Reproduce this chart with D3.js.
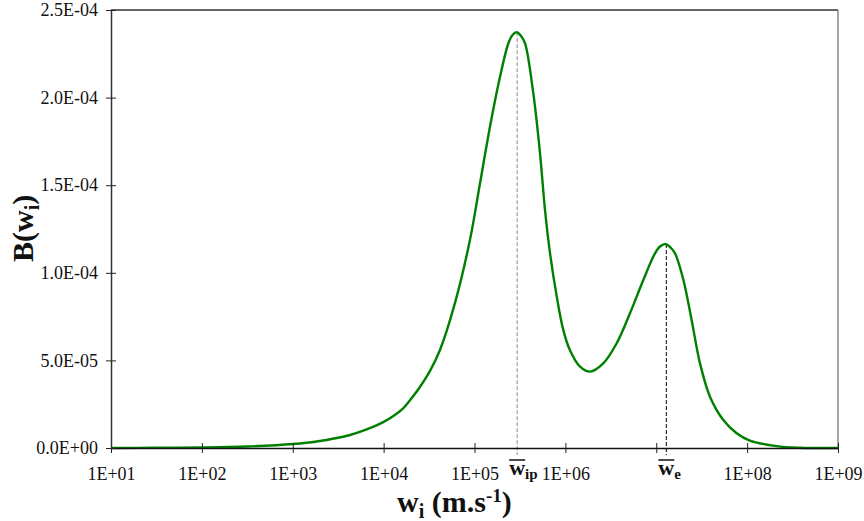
<!DOCTYPE html>
<html>
<head>
<meta charset="utf-8">
<script src="https://cdn.jsdelivr.net/npm/d3@7"></script>
<style>
  body { margin: 0; background: #fff; }
  svg { display: block; font-family: "Liberation Serif", "Times New Roman", serif; }
</style>
</head>
<body>
<svg id="chart" width="864" height="521"></svg>
<script>
// ---- data ----
const wValues = [1.0e1, 3.16e1, 1.0e2, 3.16e2, 1.01e3, 1.83e3, 4.27e3, 6.50e3, 9.91e3, 1.28e4, 1.65e4, 2.04e4, 2.51e4,
  3.24e4, 4.17e4, 6.10e4, 8.91e4, 1.15e5, 1.48e5, 1.91e5, 2.36e5, 2.62e5, 2.91e5, 3.25e5, 3.60e5,
  4.44e5, 5.26e5, 5.97e5, 6.78e5, 8.04e5, 9.48e5, 1.12e6, 1.45e6, 1.87e6, 2.61e6, 3.67e6,
  5.14e6, 7.21e6, 9.68e6, 1.10e7, 1.28e7, 1.45e7, 1.61e7, 1.99e7, 2.45e7, 3.03e7, 3.90e7,
  5.47e7, 7.67e7, 1.07e8, 2.11e8, 3.82e8, 1.0e9];
const bValues = [0, 1.1e-7, 2.9e-7, 8.6e-7, 2.28e-6, 3.7e-6, 7.4e-6, 1.06e-5, 1.48e-5, 1.83e-5, 2.28e-5, 2.85e-5, 3.48e-5,
  4.40e-5, 5.59e-5, 8.28e-5, 1.187e-4, 1.511e-4, 1.834e-4, 2.119e-4, 2.310e-4, 2.357e-4, 2.373e-4, 2.352e-4, 2.310e-4,
  2.024e-4, 1.682e-4, 1.358e-4, 1.111e-4, 8.64e-5, 6.74e-5, 5.59e-5, 4.64e-5, 4.36e-5, 4.83e-5, 5.98e-5,
  7.69e-5, 9.59e-5, 1.111e-4, 1.150e-4, 1.164e-4, 1.142e-4, 1.111e-4, 9.59e-5, 7.31e-5, 4.83e-5, 2.93e-5,
  1.60e-5, 8.4e-6, 4.2e-6, 1.1e-6, 1.7e-7, 0];

const xTickValues = [1e1, 1e2, 1e3, 1e4, 1e5, 1e6, 1e7, 1e8, 1e9];
const xTickLabels = ["1E+01", "1E+02", "1E+03", "1E+04", "1E+05", "1E+06", "", "1E+08", "1E+09"];
const yTickValues = [0, 5e-5, 1e-4, 1.5e-4, 2e-4, 2.5e-4];
const yTickLabels = ["0.0E+00", "5.0E-05", "1.0E-04", "1.5E-04", "2.0E-04", "2.5E-04"];

const markerW = [2.95e5, 1.29e7];
const markerB = [2.373e-4, 1.164e-4];
const markerSub = ["ip", "e"];
const markerColor = ["#888", "#000"];

// ---- layout ----
const L = 111, R = 838, T = 10, B = 448;
const svg = d3.select("#chart");
const x = d3.scaleLog().domain([1e1, 1e9]).range([L, R]);
const y = d3.scaleLinear().domain([0, 2.5e-4]).range([B, T]);

// frame (top and right)
svg.append("line").attr("x1", L).attr("x2", R).attr("y1", T).attr("y2", T)
  .attr("stroke", "#333").attr("stroke-width", 1.3);
svg.append("line").attr("x1", R).attr("x2", R).attr("y1", T).attr("y2", B)
  .attr("stroke", "#777").attr("stroke-width", 1.3);

// marker dashed lines
markerW.forEach((w, i) => {
  svg.append("line")
    .attr("x1", x(w)).attr("x2", x(w))
    .attr("y1", y(markerB[i])).attr("y2", B + 7)
    .attr("stroke", markerColor[i]).attr("stroke-width", 1)
    .attr("stroke-dasharray", "4,2");
});

// curve
const line = d3.line()
  .x((d, i) => x(wValues[i]))
  .y(d => y(d))
  .curve(d3.curveCatmullRom.alpha(0.5));
svg.append("path").datum(bValues)
  .attr("d", line)
  .attr("fill", "none")
  .attr("stroke", "#008000")
  .attr("stroke-width", 2.4);

// axes
const xAxis = d3.axisBottom(x).tickValues(xTickValues)
  .tickFormat((d, i) => xTickLabels[i]).tickSizeInner(5).tickSizeOuter(0).tickPadding(14);
const gx = svg.append("g").attr("transform", `translate(0,${B})`).call(xAxis);
gx.select(".domain").attr("stroke", "#111").attr("stroke-width", 1.3);
gx.selectAll(".tick line").attr("y1", -5).attr("y2", 5).attr("stroke", "#222");
gx.selectAll(".tick text").attr("font-size", 18).attr("font-family", "Liberation Serif").attr("fill", "#111");

const yAxis = d3.axisLeft(y).tickValues(yTickValues)
  .tickFormat((d, i) => yTickLabels[i]).tickSizeInner(5).tickSizeOuter(0).tickPadding(8);
const gy = svg.append("g").attr("transform", `translate(${L},0)`).call(yAxis);
gy.select(".domain").attr("stroke", "#333").attr("stroke-width", 1.5);
gy.selectAll(".tick line").attr("x1", -5).attr("x2", 5).attr("stroke", "#222");
gy.selectAll(".tick text").attr("font-size", 18).attr("font-family", "Liberation Serif").attr("fill", "#111");

// marker labels (w with overline and subscript)
markerW.forEach((w, i) => {
  const cx = x(w);
  const t = svg.append("text")
    .attr("x", cx - 8).attr("y", 475)
    .attr("font-size", 22).attr("font-weight", "bold").attr("fill", "#111");
  t.append("tspan").text("w");
  t.append("tspan").attr("font-size", 15).attr("dy", 4).text(markerSub[i]);
  svg.append("line")
    .attr("x1", cx - 8).attr("x2", cx + 8)
    .attr("y1", 460).attr("y2", 460)
    .attr("stroke", "#111").attr("stroke-width", 1.5);
});

// axis titles
const xt = svg.append("text").attr("x", 397).attr("y", 512)
  .attr("font-size", 30).attr("font-weight", "bold").attr("fill", "#111");
xt.append("tspan").text("w");
xt.append("tspan").attr("font-size", 20).attr("dy", 6).text("i");
xt.append("tspan").attr("dy", -6).text(" (m.s");
xt.append("tspan").attr("font-size", 19).attr("dy", -10).text("-1");
xt.append("tspan").attr("dy", 10).text(")");

const yt = svg.append("text")
  .attr("transform", "translate(33,262) rotate(-90)")
  .attr("font-size", 30).attr("font-weight", "bold").attr("fill", "#111");
yt.append("tspan").text("B(w");
yt.append("tspan").attr("font-size", 20).attr("dy", 6).text("i");
yt.append("tspan").attr("dy", -6).text(")");
</script>
</body>
</html>
